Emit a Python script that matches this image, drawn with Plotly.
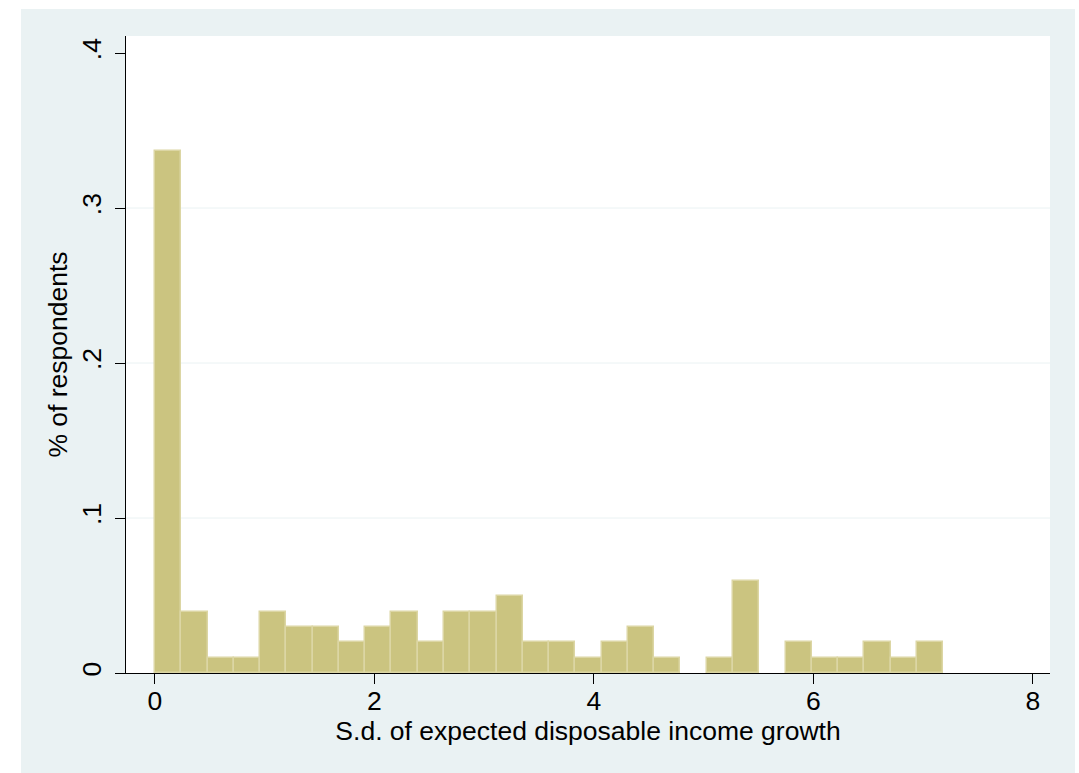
import plotly.graph_objects as go
import numpy as np

# ---- data ----
bin_start = 0.0
bin_width = 0.2394
shares = [0.3366, 0.0396, 0.0099, 0.0099, 0.0396, 0.0297, 0.0297, 0.0198,
          0.0297, 0.0396, 0.0198, 0.0396, 0.0396, 0.0495, 0.0198, 0.0198,
          0.0099, 0.0198, 0.0297, 0.0099, 0.0, 0.0099, 0.0594, 0.0,
          0.0198, 0.0099, 0.0099, 0.0198, 0.0099, 0.0198]
x_ticks = [0, 2, 4, 6, 8]
y_ticks = [0, 0.1, 0.2, 0.3, 0.4]
y_tick_text = ["0", ".1", ".2", ".3", ".4"]
grid_vals = [0.1, 0.2, 0.3]
x_title = "S.d. of expected disposable income growth"
y_title = "% of respondents"

centers = bin_start + bin_width * (np.arange(len(shares)) + 0.5)

FONT = "Liberation Sans, Arial, sans-serif"
BG = "#EAF2F3"
FS = 26.5

line_colors = ["#DCD6A4" if v > 0 else "rgba(0,0,0,0)" for v in shares]

fig = go.Figure()
fig.add_trace(go.Bar(
    x=centers, y=shares, width=bin_width,
    marker=dict(color="#CBC480", line=dict(color=line_colors, width=1.5)),
    hoverinfo="x+y", showlegend=False,
))

shapes = [
    dict(type="rect", xref="paper", yref="paper", x0=-0.1136, x1=1.0271,
         y0=-0.16, y1=1.0424, fillcolor=BG, line=dict(width=0), layer="below"),
    dict(type="rect", xref="paper", yref="paper", x0=0, x1=1, y0=0, y1=1,
         fillcolor="white", line=dict(width=0), layer="below"),
]
for g in grid_vals:
    shapes.append(dict(type="line", xref="paper", yref="y", x0=0, x1=1, y0=g, y1=g,
                       line=dict(color="#EAF2F3", width=1), layer="below"))

fig.update_layout(
    width=1079, height=773,
    margin=dict(l=126, r=29, t=36, b=100),
    paper_bgcolor="white", plot_bgcolor="rgba(0,0,0,0)",
    font=dict(family=FONT, size=FS, color="black"),
    bargap=0,
    shapes=shapes,
    xaxis=dict(range=[-0.264, 8.155], tickvals=x_ticks, ticks="outside", ticklen=10,
               tickcolor="black", tickwidth=1.2, showline=True, linecolor="black",
               linewidth=1.2, showgrid=False, zeroline=False,
               tickfont=dict(size=FS), ticklabelstandoff=-6,
               title=dict(text=x_title, font=dict(size=FS), standoff=6)),
    yaxis=dict(range=[0, 0.411], tickvals=y_ticks, ticktext=y_tick_text, tickangle=-90,
               ticks="outside", ticklen=10, tickcolor="black", tickwidth=1.2,
               showline=True, linecolor="black", linewidth=1.2, showgrid=False,
               zeroline=False, tickfont=dict(size=FS), ticklabelstandoff=3,
               title=dict(text=y_title, font=dict(size=FS), standoff=2)),
)

fig.write_html("out.html")
